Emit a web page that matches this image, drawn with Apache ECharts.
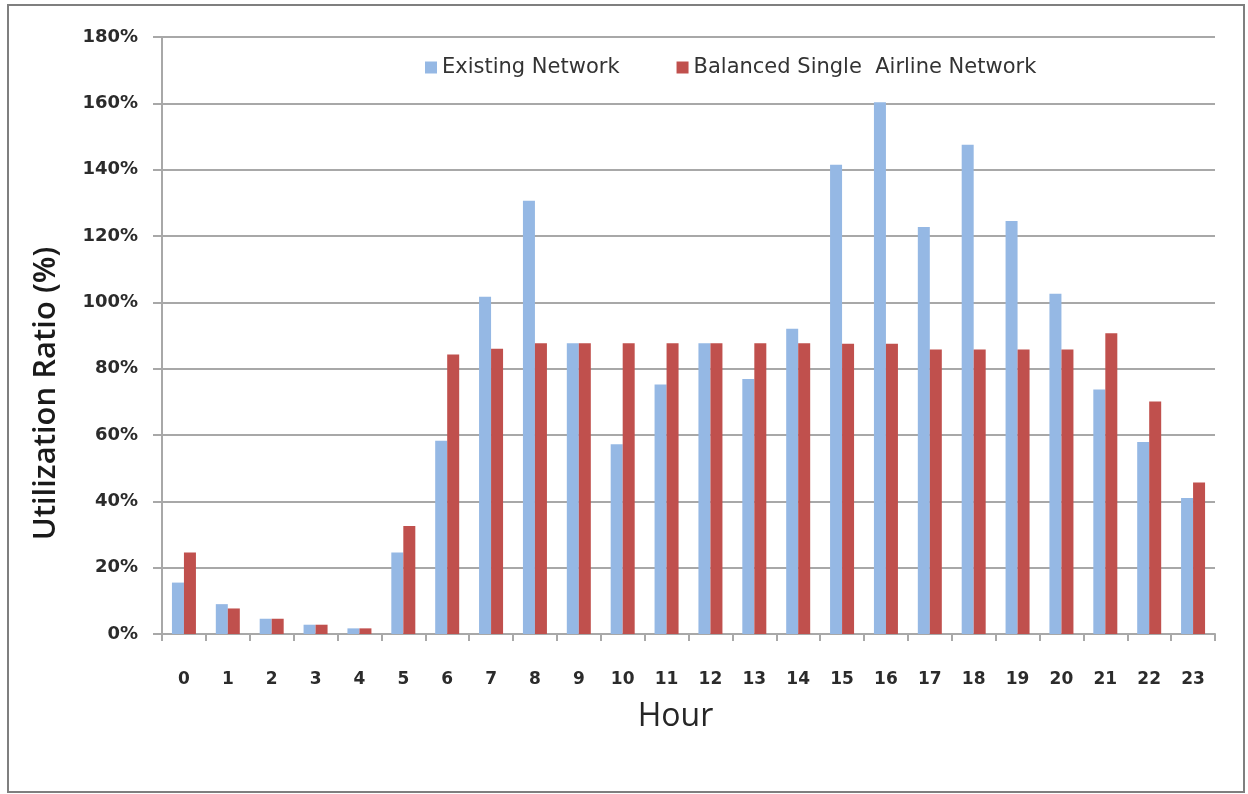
<!DOCTYPE html>
<html>
<head>
<meta charset="utf-8">
<title>Utilization Ratio by Hour</title>
<script src="https://cdn.jsdelivr.net/npm/echarts@6/dist/echarts.min.js"></script>
<style>
  html, body { margin: 0; padding: 0; background: #ffffff; }
  #chart { width: 1248px; height: 794px; }
</style>
</head>
<body>
<div id="chart"></div>
<script>
// Hours of the day (category axis)
const hours = ['0','1','2','3','4','5','6','7','8','9','10','11','12','13','14','15','16','17','18','19','20','21','22','23'];

// Utilization ratio (%) per hour
const existingNetwork = [15.5, 9.0, 4.6, 2.8, 1.7, 24.6, 58.3, 101.7, 130.6, 87.7, 57.2, 75.2, 87.7, 76.9, 92.0, 141.5, 160.3, 122.7, 147.5, 124.5, 102.6, 73.7, 57.9, 41.0];
const balancedSingleAirline = [24.6, 7.7, 4.6, 2.8, 1.7, 32.6, 84.3, 86.0, 87.7, 87.7, 87.7, 87.7, 87.7, 87.7, 87.7, 87.5, 87.5, 85.8, 85.8, 85.8, 85.8, 90.7, 70.1, 45.7];

// Y axis range
const yMin = 0, yMax = 180, yStep = 20;

const chart = echarts.init(document.getElementById('chart'), null, { renderer: 'canvas' });

const gridColor = '#a8a8a8';
const tickFont = { fontFamily: 'DejaVu Sans', fontWeight: 'bold', color: '#2b2b2b' };

chart.setOption({
  animation: false,
  backgroundColor: '#ffffff',
  graphic: [{
    type: 'rect',
    shape: { x: 8, y: 5, width: 1236, height: 787 },
    style: { fill: 'none', stroke: '#7f7f7f', lineWidth: 2 },
    silent: true
  }],
  legend: {
    top: 52,
    left: 420,
    itemWidth: 12,
    itemHeight: 12,
    itemGap: 57,
    icon: 'rect',
    textStyle: { fontFamily: 'DejaVu Sans', fontSize: 21, color: '#333333' },
    data: ['Existing Network', 'Balanced Single  Airline Network']
  },
  grid: { left: 162, right: 33, top: 37, bottom: 160, containLabel: false },
  xAxis: {
    type: 'category',
    data: hours,
    boundaryGap: true,
    name: 'Hour',
    nameLocation: 'middle',
    nameGap: 67,
    nameTextStyle: { fontFamily: 'Open Sans', fontSize: 32, color: '#262626', padding: [0, 26, 0, 0] },
    axisLine: { lineStyle: { color: gridColor, width: 2 } },
    axisTick: { show: true, alignWithLabel: false, length: 7, lineStyle: { color: gridColor, width: 2 } },
    axisLabel: Object.assign({ margin: 37, fontSize: 17 }, tickFont)
  },
  yAxis: {
    type: 'value',
    min: yMin,
    max: yMax,
    interval: yStep,
    name: 'Utilization Ratio (%)',
    nameLocation: 'middle',
    nameGap: 100,
    nameTextStyle: { fontFamily: 'Open Sans', fontWeight: 600, fontSize: 31, color: '#1a1a1a', padding: [0, 116, 0, 0] },
    axisLine: { show: true, lineStyle: { color: gridColor, width: 2 } },
    axisTick: { show: true, inside: false, length: 9, lineStyle: { color: gridColor, width: 2 } },
    axisLabel: Object.assign({ margin: 24, fontSize: 18, formatter: '{value}%' }, tickFont),
    splitLine: { show: true, lineStyle: { color: gridColor, width: 2 } }
  },
  series: [
    {
      name: 'Existing Network',
      type: 'bar',
      data: existingNetwork,
      barWidth: 12,
      barGap: '0%',
      itemStyle: { color: '#95b8e4' }
    },
    {
      name: 'Balanced Single  Airline Network',
      type: 'bar',
      data: balancedSingleAirline,
      barWidth: 12,
      barGap: '0%',
      itemStyle: { color: '#c0504d' }
    }
  ]
});
</script>
</body>
</html>
